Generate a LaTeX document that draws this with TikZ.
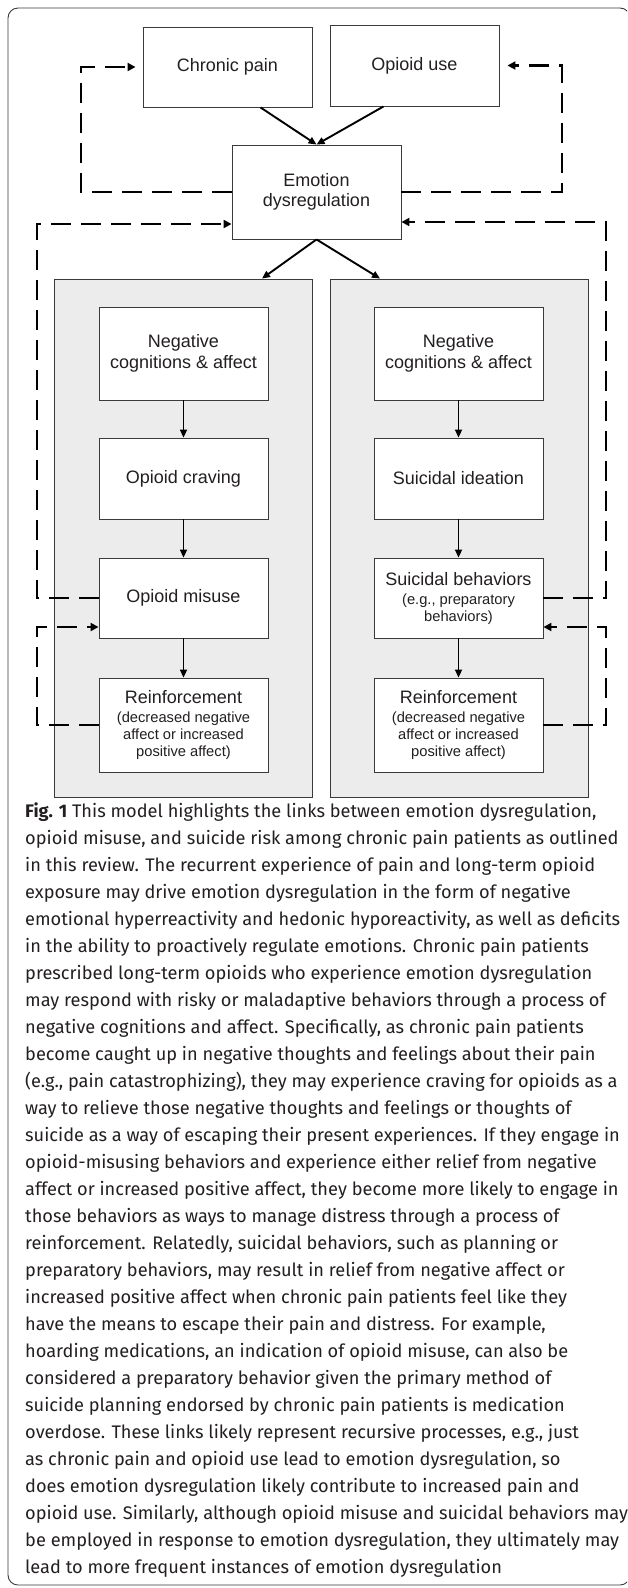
\documentclass[tikz,border=0pt]{standalone}
\usepackage{fontspec}
\setmainfont{Liberation Sans}
\newfontfamily\capfont{Fira Sans}
\usetikzlibrary{arrows.meta}

\definecolor{panelgray}{HTML}{EBECEB}
\definecolor{linegray}{HTML}{3A3A3A}
\definecolor{textgray}{HTML}{231F20}
\newcommand{\pfont}{\fontsize{14.7}{17}\selectfont}

\tikzset{
	box/.style={draw=linegray, line width=0.9pt, fill=white, minimum width=169pt, align=center, inner sep=2pt, text=textgray, font=\fontsize{18}{20.5}\selectfont},
	panel/.style={draw=linegray, line width=0.9pt, fill=panelgray, minimum width=258pt, minimum height=518pt},
	solidarrow/.style={line width=1.9pt, -{Triangle[length=8pt,width=7pt]}},
	dashline/.style={line width=2.7pt, dash pattern=on 20pt off 10pt},
	dasharrow/.style={dashline, -{Triangle[length=8pt,width=8pt]}},
	capline/.style={anchor=base west, inner sep=0pt, text=textgray, font=\capfont\fontsize{18.2}{20}\selectfont},
}

\begin{document}
\begin{tikzpicture}[x=1pt,y=-1pt]
	\clip (0,0) rectangle (627,1588);
	\draw[linegray, line width=0.9pt, rounded corners=10pt] (8,8) rectangle (630,1585);

	% causes and emotion dysregulation
	\node[box, minimum height=80pt] (pain) at (227.5,67) {Chronic pain};
	\node[box, minimum height=81pt] (opioid) at (414.5,65.5) {Opioid use};
	\node[box, minimum height=94pt] (emo) at (316.5,192) {Emotion\\dysregulation};

	% two grey panels
	\node[panel] (lpanel) at (183,538) {};
	\node[panel] (rpanel) at (459,538) {};

	% opioid path
	\node[box, minimum height=93pt] (lneg) at (183.5,353.5) {Negative\\cognitions \& affect};
	\node[box, minimum height=81pt] (lcrav) at (183.5,478.5) {Opioid craving};
	\node[box, minimum height=80pt] (lmis) at (183.5,598) {Opioid misuse};
	\node[box, minimum height=94pt] (lrein) at (183.5,725) {Reinforcement\\[-1.5pt]{\pfont (decreased negative}\\[-3.5pt]{\pfont affect or increased}\\[-3.5pt]{\pfont positive affect)}};

	% suicide path
	\node[box, minimum height=93pt] (rneg) at (458.5,353.5) {Negative\\cognitions \& affect};
	\node[box, minimum height=81pt] (ridea) at (458.5,478.5) {Suicidal ideation};
	\node[box, minimum height=80pt] (rbeh) at (458.5,598) {Suicidal behaviors\\[-1.5pt]{\pfont (e.g., preparatory}\\[-3.5pt]{\pfont behaviors)}};
	\node[box, minimum height=94pt] (rrein) at (458.5,725) {Reinforcement\\[-1.5pt]{\pfont (decreased negative}\\[-3.5pt]{\pfont affect or increased}\\[-3.5pt]{\pfont positive affect)}};

	% solid arrows
	\draw[solidarrow] ([xshift=33pt]pain.south) -- (emo.north);
	\draw[solidarrow] ([xshift=-31pt]opioid.south) -- (emo.north);
	\draw[solidarrow] (emo.south) -- ([xshift=79pt]lpanel.north);
	\draw[solidarrow] (emo.south) -- ([xshift=-79pt]rpanel.north);
	\foreach \a/\b in {lneg/lcrav, lcrav/lmis, lmis/lrein, rneg/ridea, ridea/rbeh, rbeh/rrein}
		\draw[solidarrow] (\a.south) -- (\b.north);

	% x positions of the dashed loops
	\coordinate (lloop) at (81,0);
	\coordinate (rloop) at (562,0);
	\coordinate (lout) at (37,0);
	\coordinate (rout) at (606,0);

	% dashed feedback lines
	\draw[dasharrow, shorten >=7pt] (emo.west) -- (emo.west -| lloop) |- (pain.west);
	\draw[dasharrow, shorten >=8pt] (emo.east) -- (emo.east -| rloop) |- (opioid.east);
	\draw[dasharrow] (lmis.west) -- (lmis.west -| lout) |- ([yshift=-32pt]emo.west);
	\draw[dasharrow] (rbeh.east) -- (rbeh.east -| rout) |- ([yshift=-30pt]emo.east);
	\draw[dasharrow] (lrein.west) -- (lrein.west -| lout) |- ([yshift=-29pt]lmis.west);
	\draw[dasharrow] (rrein.east) -- (rrein.east -| rout) |- ([yshift=-29pt]rbeh.east);

	% caption, one node per printed line
	\foreach \txt [count=\i from 0] in {
		{{\bfseries Fig. 1} This model highlights the links between emotion dysregulation,},
		{opioid misuse, and suicide risk among chronic pain patients as outlined},
		{in this review. The recurrent experience of pain and long-term opioid},
		{exposure may drive emotion dysregulation in the form of negative},
		{emotional hyperreactivity and hedonic hyporeactivity, as well as deficits},
		{in the ability to proactively regulate emotions. Chronic pain patients},
		{prescribed long-term opioids who experience emotion dysregulation},
		{may respond with risky or maladaptive behaviors through a process of},
		{negative cognitions and affect. Specifically, as chronic pain patients},
		{become caught up in negative thoughts and feelings about their pain},
		{(e.g., pain catastrophizing), they may experience craving for opioids as a},
		{way to relieve those negative thoughts and feelings or thoughts of},
		{suicide as a way of escaping their present experiences. If they engage in},
		{opioid-misusing behaviors and experience either relief from negative},
		{affect or increased positive affect, they become more likely to engage in},
		{those behaviors as ways to manage distress through a process of},
		{reinforcement. Relatedly, suicidal behaviors, such as planning or},
		{preparatory behaviors, may result in relief from negative affect or},
		{increased positive affect when chronic pain patients feel like they},
		{have the means to escape their pain and distress. For example,},
		{hoarding medications, an indication of opioid misuse, can also be},
		{considered a preparatory behavior given the primary method of},
		{suicide planning endorsed by chronic pain patients is medication},
		{overdose. These links likely represent recursive processes, e.g., just},
		{as chronic pain and opioid use lead to emotion dysregulation, so},
		{does emotion dysregulation likely contribute to increased pain and},
		{opioid use. Similarly, although opioid misuse and suicidal behaviors may},
		{be employed in response to emotion dysregulation, they ultimately may},
		{lead to more frequent instances of emotion dysregulation}}
		\node[capline] (cap\i) at (25,817+27*\i) {\txt};
\end{tikzpicture}
\end{document}
